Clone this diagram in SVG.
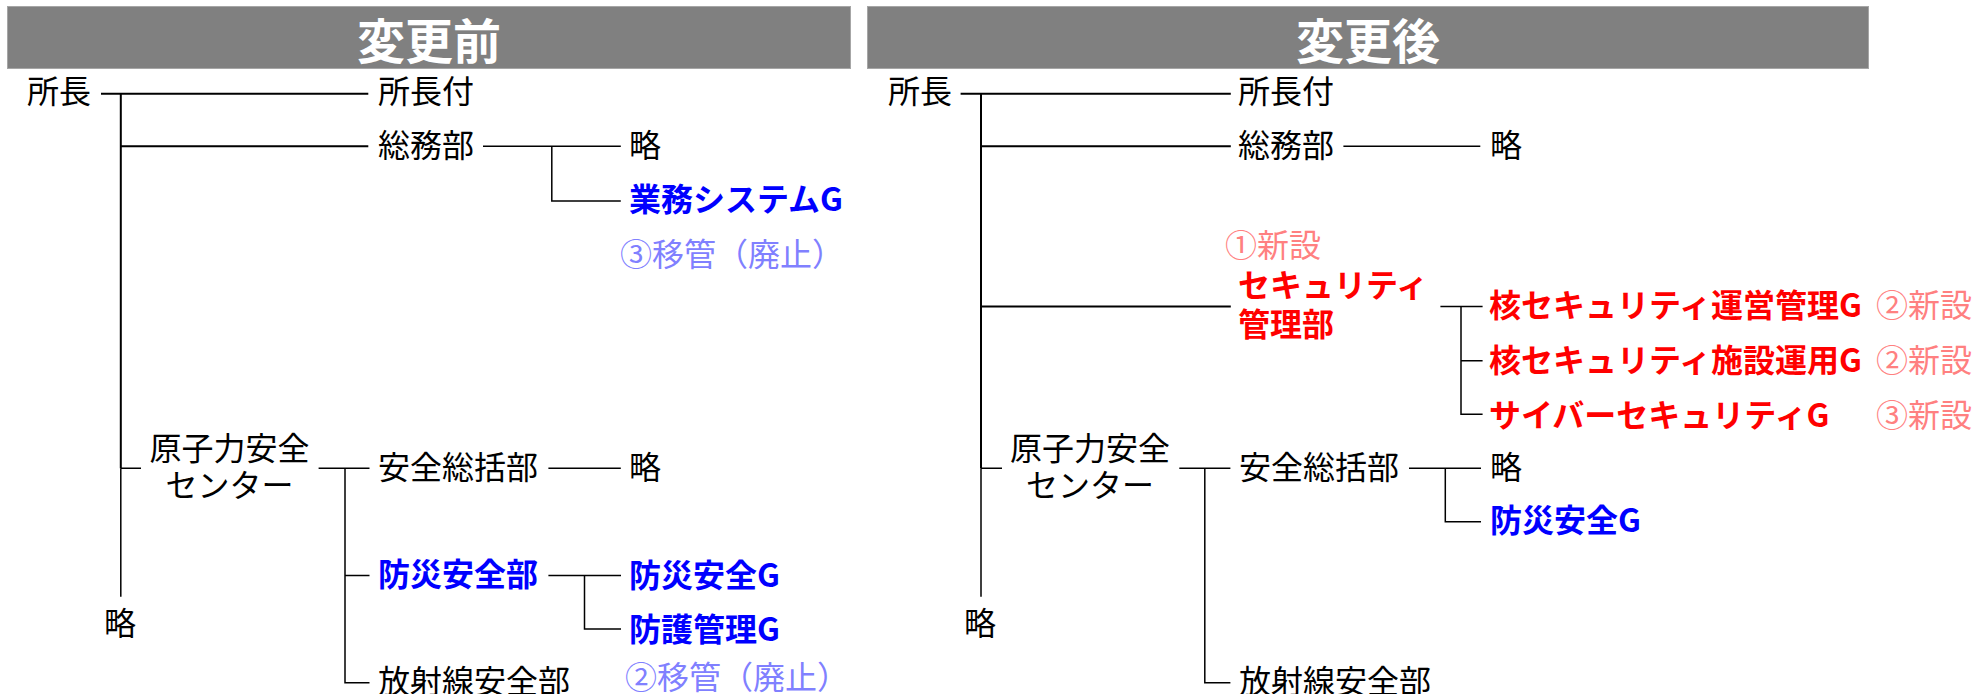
<svg xmlns="http://www.w3.org/2000/svg" width="1981" height="694" viewBox="0 0 1981 694">
<style>
text{font-family:"Noto Sans CJK JP","Noto Sans CJK SC",sans-serif;font-size:32px;dominant-baseline:central;fill:#000}
.hd{font-size:48px;font-weight:bold;fill:#fff;text-anchor:middle}
.b{font-weight:bold;fill:#0000ff}
.r{font-weight:bold;fill:#ff0000}
.lb{fill:#8080ff}
.lr{fill:#ff8080}
.m{text-anchor:middle}
.ln{stroke:#000;stroke-width:1.5;fill:none}
.tk{stroke:#000;stroke-width:2;fill:none}
</style>
<g id="header-before"><rect x="7.5" y="6.5" width="843" height="62" fill="#808080" stroke="#a6a6a6" stroke-width="1"/><text class="hd" x="429" y="38">変更前</text></g>
<g id="header-after"><rect x="867.5" y="6.5" width="1001" height="62" fill="#808080" stroke="#a6a6a6" stroke-width="1"/><text class="hd" x="1368" y="38">変更後</text></g>
<g id="connectors">
<path class="tk" d="M101 93.7H368.3M120.8 93.7V468.3M120.8 146.3H368.3"/>
<path class="ln" d="M120.8 468.3V596.7M120.8 468.3H141"/>
<path class="ln" d="M483 146.3H620.8M551.8 146.3V201H620.8"/>
<path class="ln" d="M318.6 468.3H369.5M345 468.3V682.7H369.5M345 575.5H369.5"/>
<path class="ln" d="M548.4 468.3H620.8"/>
<path class="ln" d="M548.4 575.5H621M584.5 575.5V629H621"/>
<path class="tk" d="M960.6 93.7H1230.8M981 93.7V468.3M981 146.3H1230.8M981 306.5H1230.8"/>
<path class="ln" d="M981 468.3V596.7M981 468.3H1002"/>
<path class="ln" d="M1343.4 146.3H1480.3"/>
<path class="ln" d="M1440.4 306.5H1482.6M1461 306.5V414.3H1482.6M1461 360.7H1482.6"/>
<path class="ln" d="M1179.3 468.3H1230.4M1204.8 468.3V682.7H1230.4"/>
<path class="ln" d="M1409 468.3H1481M1445.3 468.3V521.7H1481"/>
</g>
<g id="b-shocho"><text x="27" y="88.7">所長</text></g>
<g id="b-shochofu"><text x="378" y="88.7">所長付</text></g>
<g id="b-somu"><text x="378" y="143">総務部</text></g>
<g id="b-somu-ryaku"><text x="629" y="143">略</text></g>
<g id="b-gyomu"><text class="b" x="629" y="196.7">業務システムG</text></g>
<g id="b-note3"><text class="lb" x="620" y="252">③移管（廃止）</text></g>
<g id="b-center"><text class="m" x="229.4" y="446">原子力安全</text><text class="m" x="229.4" y="483">センター</text></g>
<g id="b-anzen"><text x="378" y="465">安全総括部</text></g>
<g id="b-anzen-ryaku"><text x="629" y="465">略</text></g>
<g id="b-bosai"><text class="b" x="378" y="572">防災安全部</text></g>
<g id="b-bosaiG"><text class="b" x="629" y="572.5">防災安全G</text></g>
<g id="b-bogoG"><text class="b" x="629" y="627">防護管理G</text></g>
<g id="b-note2"><text class="lb" x="625" y="675">②移管（廃止）</text></g>
<g id="b-hosha"><text x="378" y="679">放射線安全部</text></g>
<g id="b-ryaku"><text x="104" y="620.5">略</text></g>
<g id="a-shocho"><text x="888" y="88.7">所長</text></g>
<g id="a-shochofu"><text x="1238" y="88.7">所長付</text></g>
<g id="a-somu"><text x="1238" y="143">総務部</text></g>
<g id="a-somu-ryaku"><text x="1490" y="143">略</text></g>
<g id="a-note1"><text class="lr" x="1225" y="242.5">①新設</text></g>
<g id="a-security"><text class="r" x="1238" y="283">セキュリティ</text><text class="r" x="1238" y="321.7">管理部</text></g>
<g id="a-unei"><text class="r" x="1489" y="303">核セキュリティ運営管理G</text><text class="lr" x="1876" y="303">②新設</text></g>
<g id="a-shisetsu"><text class="r" x="1489" y="358">核セキュリティ施設運用G</text><text class="lr" x="1876" y="358">②新設</text></g>
<g id="a-cyber"><text class="r" x="1489" y="412.5">サイバーセキュリティG</text><text class="lr" x="1876" y="412.5">③新設</text></g>
<g id="a-center"><text class="m" x="1090" y="446">原子力安全</text><text class="m" x="1090" y="483">センター</text></g>
<g id="a-anzen"><text x="1239" y="465">安全総括部</text></g>
<g id="a-anzen-ryaku"><text x="1490" y="465">略</text></g>
<g id="a-bosaiG"><text class="b" x="1490" y="518">防災安全G</text></g>
<g id="a-hosha"><text x="1239" y="679">放射線安全部</text></g>
<g id="a-ryaku"><text x="964" y="620.5">略</text></g>
</svg>
